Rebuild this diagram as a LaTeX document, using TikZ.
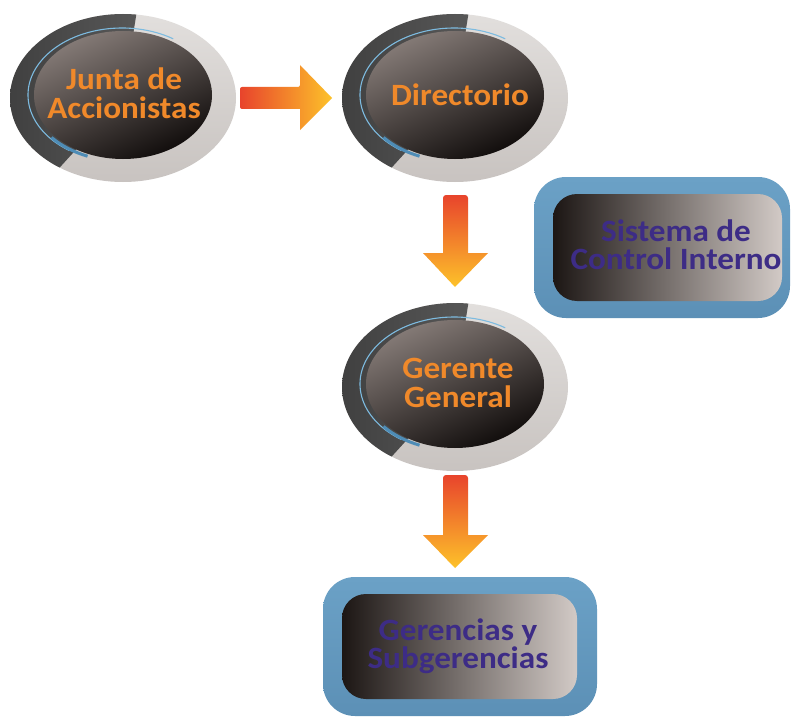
\documentclass[tikz,border=0pt]{standalone}
\usepackage{fontspec}
\setmainfont{Carlito}[FakeStretch=1.07]
\usetikzlibrary{calc}
\definecolor{orangeT}{HTML}{F0892A}
\definecolor{purpleT}{HTML}{3D2C86}
\definecolor{ringlight}{HTML}{E2DFDD}
\definecolor{ringlight2}{HTML}{C8C3C0}
\definecolor{ringdark}{HTML}{3A3A3A}
\definecolor{bluethin}{HTML}{7DBBE0}
\definecolor{bluethick}{HTML}{4E8CB6}
\definecolor{innerlight}{HTML}{857B77}
\definecolor{innermid}{HTML}{2A2220}
\definecolor{innerdark}{HTML}{100C0B}
\definecolor{boxblue}{HTML}{6BA1C6}
\definecolor{boxblue2}{HTML}{5C90B6}
\definecolor{boxdark}{HTML}{1C1614}
\definecolor{boxmid}{HTML}{3B3230}
\definecolor{boxlight}{HTML}{D2CAC6}
\definecolor{arrred}{HTML}{E8442C}
\definecolor{arryel}{HTML}{FDC22A}
\tikzset{
  orbtext/.style={align=center, inner sep=0pt, text=orangeT,
    font=\bfseries\fontsize{31}{29}\selectfont},
  boxtext/.style={align=center, inner sep=0pt, text=purpleT,
    font=\bfseries\fontsize{31}{28}\selectfont},
}
% orb: center x, center y, name
\newcommand\myorb[3]{%
  \coordinate (#3) at (#1,#2);
  \begin{scope}
    \clip (#1,#2) ellipse [x radius=113, y radius=84];
    \shade[top color=ringlight, bottom color=ringlight2] (#1-114,#2-85) rectangle (#1+114,#2+85);
    \shade[left color=ringdark, right color=ringdark!85!white] (#1,#2) -- ($(#1,#2)+(125:130 and 100)$) arc[start angle=125, end angle=277, x radius=130, y radius=100] -- cycle;
  \end{scope}
  \draw[bluethin, line width=1.1pt] ($(#1-1,#2-3)+(124:94 and 67)$) arc[start angle=124, end angle=303, x radius=94, y radius=67];
  \draw[bluethick, line width=3pt] ($(#1-1,#2-3)+(112:92 and 66)$) arc[start angle=112, end angle=140, x radius=92, y radius=66];
  \shade[top color=innerlight, middle color=innermid, bottom color=innerdark, shading angle=25]
    (#1,#2-3) ellipse [x radius=89, y radius=64];
}
% rounded box: x1 y1 x2 y2 (outer), right inset
\newcommand\mybox[5]{%
  \shade[top color=boxblue, bottom color=boxblue2, rounded corners=32pt] (#1,#2) rectangle (#3,#4);
  \shade[left color=boxdark, middle color=boxmid, right color=boxlight, rounded corners=24pt]
    (#1+19,#2+17) rectangle (#3-#5,#4-17);
}
\begin{document}
\begin{tikzpicture}[x=1pt, y=-1pt]
\useasboundingbox (0,0) rectangle (796,717);
\fill[white] (0,0) rectangle (796,717);

% orbs
\myorb{123}{98}{cjunta}
\myorb{455}{98}{cdir}
\myorb{455}{387}{cger}

% boxes
\mybox{534}{177}{790}{318}{8}
\mybox{323}{577}{597}{716}{20}

% texts
\node[orbtext] (junta) at (124,93) {Junta de\\Accionistas};
\node[orbtext] (dir) at (460,95) {Directorio};
\node[orbtext] (ger) at (458,383) {Gerente\\General};
\node[boxtext] (sci) at (676,245) {Sistema de\\Control Interno};
\node[boxtext] (gys) at (458,646) {Gerencias y\\Subgerencias};

% arrows
\shade[left color=arrred, right color=arryel, rounded corners=2pt]
  (240,87) -- (300,87) [sharp corners] -- (300,65) -- (332,98) -- (300,130) -- (300,109) [rounded corners=2pt] -- (240,109) -- cycle;
\shade[top color=arrred, bottom color=arryel, rounded corners=3pt]
  (443,253) -- (443,195) -- (468,195) [sharp corners] -- (468,253) -- (488,253) -- (455,287) -- (423,253) -- cycle;
\shade[top color=arrred, bottom color=arryel, rounded corners=3pt]
  (443,535) -- (443,475) -- (468,475) [sharp corners] -- (468,535) -- (488,535) -- (455,568) -- (423,535) -- cycle;
\end{tikzpicture}
\end{document}
